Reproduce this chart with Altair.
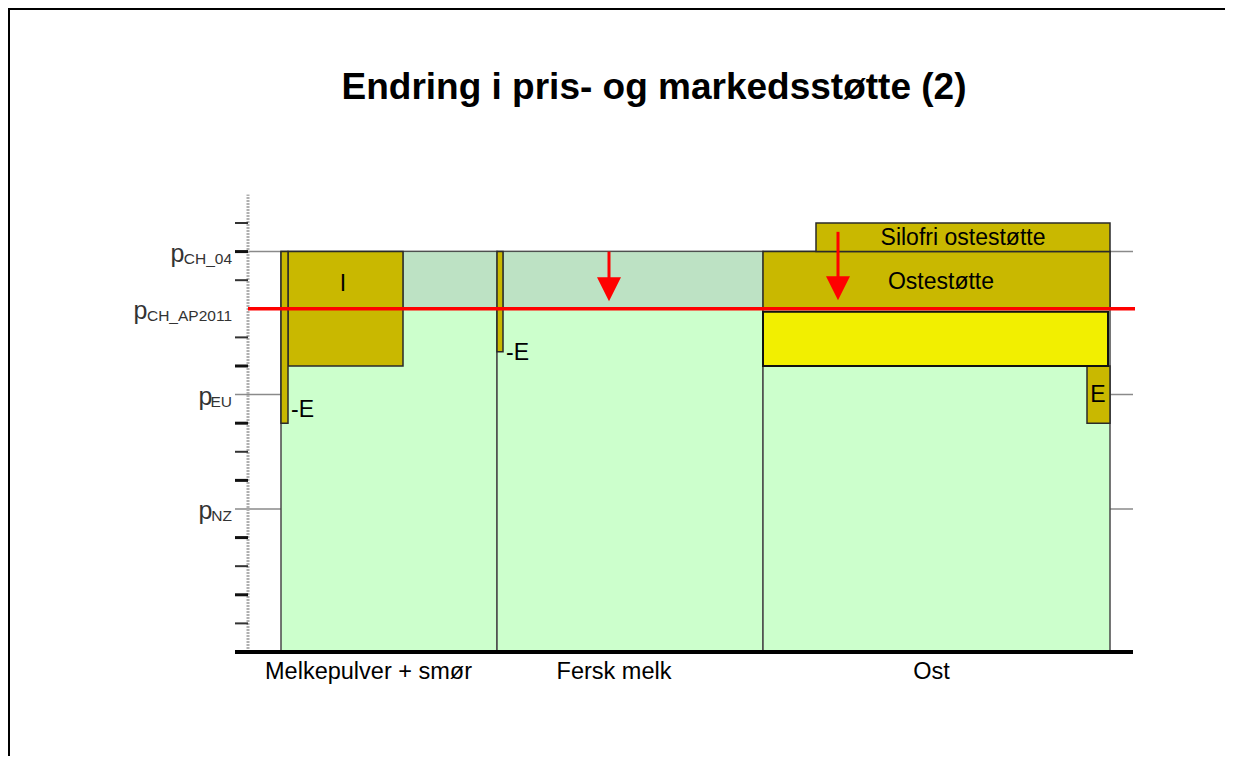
import altair as alt
import pandas as pd

FONT = "Liberation Sans"
W, H = 1217, 748
X_DOMAIN = [-24.0, 97.7]
Y_DOMAIN = [-3.637, 22.517]

title_text = "Endring i pris- og markedsstøtte (2)"

# quantity categories (x in quantity units, y in price units)
categories = ["Melkepulver + smør", "Fersk melk", "Ost"]
cat_start = [3.3, 24.9, 51.5]
cat_end = [24.9, 51.5, 86.2]
cat_low = [0, 0, 0]
cat_high = [14, 14, 14]
cat_label_q = [12.05, 36.6, 68.35]

# price-reduction zone (above AP2011 price)
shade_start = [15.5, 25.5]
shade_end = [24.9, 51.5]
shade_low = [12, 12]
shade_high = [14, 14]

# support blocks
support_names = ["I", "-E", "-E", "Ostestøtte", "Silofri ostestøtte", "E"]
support_start = [4.0, 3.3, 24.9, 51.5, 56.8, 83.9]
support_end = [15.5, 4.0, 25.5, 86.2, 86.2, 86.2]
support_low = [10, 8, 10.5, 12, 14, 8]
support_high = [14, 14, 14, 14, 15, 10]

# yellow block (cheese, below AP2011 price)
yellow_start = [51.5]
yellow_end = [86.0]
yellow_low = [10]
yellow_high = [11.9]

# labels inside chart
center_labels = ["I", "Ostestøtte", "Silofri ostestøtte", "E"]
center_label_q = [9.5, 69.3, 71.5, 85.0]
center_label_y = [12.88, 12.95, 14.49, 9.0]
left_labels = ["-E", "-E"]
left_label_q = [4.3, 25.8]
left_label_y = [8.45, 10.47]

# price levels
level_subs = ["CH_04", "CH_AP2011", "EU", "NZ"]
level_values = [14, 12, 9, 5]
ref_levels = [14, 9, 5]
ap_level = [12]

# axis ticks
thick_ticks = [14, 10, 8, 6, 4, 2]
thin_ticks = [15, 13, 11, 7, 3, 1]

# arrows (price cut)
arrow_q = [36.1, 59.0]
arrow_top = [14.0, 14.69]
arrow_head = [12.68, 12.72]

AXIS_LEFT = -1.3
AXIS_RIGHT = 88.5
RED_RIGHT = 88.7
AXIS_TOP = 16.0

xs = alt.Scale(domain=X_DOMAIN, nice=False, zero=False)
ys = alt.Scale(domain=Y_DOMAIN, nice=False, zero=False)


def X(f):
    return alt.X(f, type="quantitative", scale=xs, axis=None)


def Y(f):
    return alt.Y(f, type="quantitative", scale=ys, axis=None)


def rects(q0, q1, y0, y1, fill, stroke, sw):
    df = pd.DataFrame({"q0": q0, "q1": q1, "y0": y0, "y1": y1})
    return alt.Chart(df).mark_rect(fill=fill, stroke=stroke, strokeWidth=sw).encode(
        x=X("q0"), x2="q1", y=Y("y0"), y2="y1")


layers = []

# reference thin lines
ref_df = pd.DataFrame({"y": ref_levels, "a": AXIS_LEFT, "b": AXIS_RIGHT})
layers.append(alt.Chart(ref_df).mark_rule(color="#8a8a8a", strokeWidth=1.5).encode(
    x=X("a"), x2="b", y=Y("y")))

# dotted y axis
ax_df = pd.DataFrame({"q": [0], "y0": [0], "y1": [AXIS_TOP]})
layers.append(alt.Chart(ax_df).mark_rule(color="#b0b0b0", strokeWidth=3, strokeDash=[2, 1]).encode(
    x=X("q"), y=Y("y0"), y2="y1"))

# ticks
tk_df = pd.DataFrame({"y": thick_ticks, "a": AXIS_LEFT, "b": 0})
layers.append(alt.Chart(tk_df).mark_rule(color="#111111", strokeWidth=3).encode(
    x=X("a"), x2="b", y=Y("y")))
tn_df = pd.DataFrame({"y": thin_ticks, "a": AXIS_LEFT, "b": 0})
layers.append(alt.Chart(tn_df).mark_rule(color="#333333", strokeWidth=2).encode(
    x=X("a"), x2="b", y=Y("y")))

# category bars
layers.append(rects(cat_start, cat_end, cat_low, cat_high, "#ccffcc", "#4a4a4a", 1.5))
layers.append(rects(shade_start, shade_end, shade_low, shade_high, "#bde2c4", "#4a4a4a", 1.0))
layers.append(rects(support_start, support_end, support_low, support_high, "#c9b800", "#2a2a2a", 1.5))
layers.append(rects(yellow_start, yellow_end, yellow_low, yellow_high, "#f2ef00", "#111111", 2))

# bottom axis
bx_df = pd.DataFrame({"y": [0], "a": [AXIS_LEFT], "b": [AXIS_RIGHT]})
layers.append(alt.Chart(bx_df).mark_rule(color="#000000", strokeWidth=4).encode(
    x=X("a"), x2="b", y=Y("y")))

# red AP2011 line
red_df = pd.DataFrame({"y": ap_level, "a": 0, "b": RED_RIGHT})
layers.append(alt.Chart(red_df).mark_rule(color="#ff0000", strokeWidth=3.5).encode(
    x=X("a"), x2="b", y=Y("y")))

# arrows
ar_df = pd.DataFrame({"q": arrow_q, "top": arrow_top, "head": arrow_head})
layers.append(alt.Chart(ar_df).mark_rule(color="#ff0000", strokeWidth=3).encode(
    x=X("q"), y=Y("top"), y2="head"))
layers.append(alt.Chart(ar_df).mark_point(
    shape="M-1,-1L1,-1L0,1Z", size=576, filled=True, color="#ff0000", opacity=1).encode(
    x=X("q"), y=Y("head")))

# labels in chart
cl_df = pd.DataFrame({"t": center_labels, "q": center_label_q, "y": center_label_y})
layers.append(alt.Chart(cl_df).mark_text(font=FONT, fontSize=23, color="#000000",
                                         align="center", baseline="middle").encode(
    x=X("q"), y=Y("y"), text="t:N"))
ll_df = pd.DataFrame({"t": left_labels, "q": left_label_q, "y": left_label_y})
layers.append(alt.Chart(ll_df).mark_text(font=FONT, fontSize=23, color="#000000",
                                         align="left", baseline="middle").encode(
    x=X("q"), y=Y("y"), text="t:N"))

# category labels
cat_df = pd.DataFrame({"t": categories, "q": cat_label_q, "y": -0.95})
layers.append(alt.Chart(cat_df).mark_text(font=FONT, fontSize=23.5, color="#000000",
                                          align="center", baseline="alphabetic").encode(
    x=X("q"), y=Y("y"), text="t:N"))

# price-level labels: "p" + subscript
lv_df = pd.DataFrame({"sub": level_subs, "y": level_values})
lv_df["sq"] = -1.6
lv_df["pq"] = -1.6 - (lv_df["sub"].str.len() * 0.93 + 0.1)
lv_df["p"] = "p"
layers.append(alt.Chart(lv_df).mark_text(font=FONT, fontSize=15.5, color="#333333",
                                         align="right", baseline="alphabetic", dy=12).encode(
    x=X("sq"), y=Y("y"), text="sub:N"))
layers.append(alt.Chart(lv_df).mark_text(font=FONT, fontSize=25, color="#333333",
                                         align="right", baseline="alphabetic", dy=10).encode(
    x=X("pq"), y=Y("y"), text="p:N"))

# title
t_df = pd.DataFrame({"t": [title_text]})
layers.append(alt.Chart(t_df).mark_text(font=FONT, fontSize=37, fontWeight="bold", color="#000000",
                                        align="center", baseline="alphabetic").encode(
    x=alt.value(646), y=alt.value(91), text="t:N"))

# slide frame (right and bottom edges lie outside the page)
fr_df = pd.DataFrame({"k": [0]})
layers.append(alt.Chart(fr_df).mark_rect(fill="transparent", stroke="#000000", strokeWidth=3).encode(
    x=alt.value(0.5), x2=alt.value(W + 60), y=alt.value(0.5), y2=alt.value(H + 60)))

chart = alt.layer(*layers).properties(
    width=W, height=H,
    autosize=alt.AutoSizeParams(type="none"),
    padding=0,
).configure_view(stroke=None, strokeWidth=0, fill=None)

chart.save("out.html", embed_options={"renderer": "svg", "actions": False})
